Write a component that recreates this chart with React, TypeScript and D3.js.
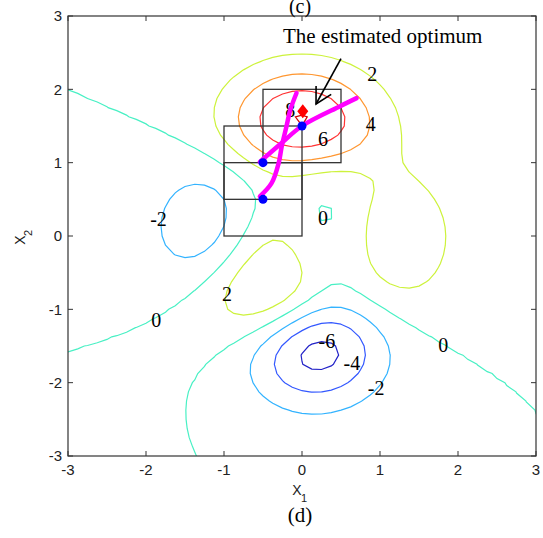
import React from "react";
import * as d3 from "d3";

// axis ticks
const xTicks = [-3, -2, -1, 0, 1, 2, 3];
const yTicks = [-3, -2, -1, 0, 1, 2, 3];

// contour levels and their colours (matlab jet-like)
const levels = [-6, -4, -2, 0, 2, 4, 6, 8];
const levelColors = ["#2323c8", "#3358ff", "#33b3ff", "#48f0c4", "#cdf23c", "#ff9630", "#ff3333", "#d00000"];

// the surface is matlab's peaks() on a 49x49 grid
const gridSize = 49;
const sq = (v: number) => v * v;
const peaks = (x: number, y: number) =>
  3 * sq(1 - x) * Math.exp(-x * x - sq(y + 1)) -
  10 * (x / 5 - x * x * x - Math.pow(y, 5)) * Math.exp(-x * x - y * y) -
  Math.exp(-sq(x + 1) - y * y) / 3;

// contour labels
const labelText = ["8", "6", "4", "2", "0", "-2", "2", "0", "0", "-6", "-4", "-2"];
const labelX = [-0.15, 0.27, 0.88, 0.9, 0.27, -1.84, -0.96, -1.87, 1.81, 0.32, 0.64, 0.95];
const labelY = [1.72, 1.32, 1.53, 2.21, 0.25, 0.23, -0.79, -1.15, -1.49, -1.43, -1.73, -2.07];

// search boxes
const boxX0 = [-0.5, -1, -1];
const boxX1 = [0.5, 0, 0];
const boxY0 = [1, 0.5, 0];
const boxY1 = [2, 1.5, 1];

// box centres (blue points)
const centreX = [0, -0.5, -0.5];
const centreY = [1.5, 1, 0.5];

// magenta search paths
const pathAX = [-0.54, -0.28, 0, 0.49, 0.7];
const pathAY = [1.01, 1.25, 1.5, 1.77, 1.88];
const pathBX = [-0.54, -0.39, -0.3, -0.26, -0.2, -0.15, -0.07];
const pathBY = [0.54, 0.72, 0.99, 1.22, 1.49, 1.72, 1.95];

// estimated optimum and arrow
const optimumX = 0.01;
const optimumY = 1.7;
const arrowFrom = [0.5, 2.42];
const arrowTo = [0.18, 1.8];

const W = 543;
const H = 538;
const left = 68, right = 536, top = 16, bottom = 456;

const App = () => {
  const x = d3.scaleLinear().domain([-3, 3]).range([left, right]);
  const y = d3.scaleLinear().domain([-3, 3]).range([bottom, top]);

  // grid values
  const step = 6 / (gridSize - 1);
  const values: number[] = [];
  for (let j = 0; j < gridSize; j++) {
    for (let i = 0; i < gridSize; i++) {
      values.push(peaks(-3 + i * step, -3 + j * step));
    }
  }
  const contours = d3.contours().size([gridSize, gridSize]).thresholds(levels)(values);

  const proj = d3.geoTransform({
    point: function (gx: number, gy: number) {
      this.stream.point(x(-3 + (gx - 0.5) * step), y(-3 + (gy - 0.5) * step));
    },
  });
  const geoPath = d3.geoPath(proj);

  const pathA = d3.line<number>().curve(d3.curveCatmullRom)
    .x((d, i) => x(pathAX[i])).y((d, i) => y(pathAY[i]))(pathAX);
  const pathB = d3.line<number>().curve(d3.curveCatmullRom)
    .x((d, i) => x(pathBX[i])).y((d, i) => y(pathBY[i]))(pathBX);

  // arrow head
  const tx = x(arrowTo[0]), ty = y(arrowTo[1]);
  const fx = x(arrowFrom[0]), fy = y(arrowFrom[1]);
  const ang = Math.atan2(fy - ty, fx - tx);
  const headLen = 18;
  const h1 = [tx + headLen * Math.cos(ang + 0.5), ty + headLen * Math.sin(ang + 0.5)];
  const h2 = [tx + headLen * Math.cos(ang - 0.5), ty + headLen * Math.sin(ang - 0.5)];

  const ox = x(optimumX), oy = y(optimumY);

  return (
    <svg width={W} height={H} style={{ position: "absolute", left: 0, top: 0, background: "#fff" }}>
      <defs>
        <clipPath id="plotClip">
          <rect x={left} y={top} width={right - left} height={bottom - top} />
        </clipPath>
      </defs>

      <g clipPath="url(#plotClip)">
        {contours.map((c, i) => (
          <path key={i} d={geoPath(c as any) || ""} fill="none" stroke={levelColors[i]} strokeWidth={1.2} />
        ))}
      </g>

      {/* boxes */}
      {boxX0.map((d, i) => (
        <rect
          key={i}
          x={x(boxX0[i])}
          y={y(boxY1[i])}
          width={x(boxX1[i]) - x(boxX0[i])}
          height={y(boxY0[i]) - y(boxY1[i])}
          fill="none"
          stroke="#333"
          strokeWidth={1.3}
        />
      ))}

      {/* contour labels */}
      {labelText.map((t, i) => (
        <text
          key={i}
          x={x(labelX[i])}
          y={y(labelY[i])}
          dy="0.35em"
          textAnchor="middle"
          fontFamily="'Liberation Serif', serif"
          fontSize={20}
          fill="#000"
        >
          {t}
        </text>
      ))}

      {/* search paths */}
      <path d={pathB || ""} fill="none" stroke="#ff00ff" strokeWidth={4.5} strokeLinecap="round" />
      <path d={pathA || ""} fill="none" stroke="#ff00ff" strokeWidth={4.5} strokeLinecap="round" />

      {centreX.map((d, i) => (
        <circle key={i} cx={x(centreX[i])} cy={y(centreY[i])} r={4.5} fill="#0000ff" />
      ))}

      {/* optimum */}
      <path d={`M${ox},${oy - 7}L${ox + 5.5},${oy}L${ox},${oy + 7}L${ox - 5.5},${oy}Z`} fill="#ff0000" />

      {/* arrow */}
      <line x1={fx} y1={fy} x2={tx} y2={ty} stroke="#000" strokeWidth={1.6} />
      <polyline points={`${h1[0]},${h1[1]} ${tx},${ty} ${h2[0]},${h2[1]}`} fill="none" stroke="#000" strokeWidth={1.6} />
      <text x={283} y={43} fontFamily="'Liberation Serif', serif" fontSize={21} fill="#000">
        The estimated optimum
      </text>

      {/* axes box and ticks */}
      <rect x={left} y={top} width={right - left} height={bottom - top} fill="none" stroke="#333" strokeWidth={1.2} />
      {xTicks.map((t) => (
        <g key={"x" + t}>
          <line x1={x(t)} x2={x(t)} y1={bottom} y2={bottom - 5} stroke="#333" />
          <line x1={x(t)} x2={x(t)} y1={top} y2={top + 5} stroke="#333" />
          <text x={x(t)} y={bottom + 19} textAnchor="middle" fontFamily="'Liberation Sans', sans-serif" fontSize={15} fill="#222">
            {t}
          </text>
        </g>
      ))}
      {yTicks.map((t) => (
        <g key={"y" + t}>
          <line x1={left} x2={left + 5} y1={y(t)} y2={y(t)} stroke="#333" />
          <line x1={right} x2={right - 5} y1={y(t)} y2={y(t)} stroke="#333" />
          <text x={left - 6} y={y(t)} dy="0.36em" textAnchor="end" fontFamily="'Liberation Sans', sans-serif" fontSize={15} fill="#222">
            {t}
          </text>
        </g>
      ))}

      {/* axis labels */}
      <text x={297} y={495} textAnchor="middle" fontFamily="'Liberation Sans', sans-serif" fontSize={14} fill="#222">
        X
      </text>
      <text x={304} y={502} textAnchor="middle" fontFamily="'Liberation Sans', sans-serif" fontSize={11} fill="#222">
        1
      </text>
      <g transform="translate(25,237) rotate(-90)">
        <text x={-3} y={0} textAnchor="middle" fontFamily="'Liberation Sans', sans-serif" fontSize={14} fill="#222">
          X
        </text>
        <text x={4} y={7} textAnchor="middle" fontFamily="'Liberation Sans', sans-serif" fontSize={11} fill="#222">
          2
        </text>
      </g>

      {/* panel captions */}
      <text x={300} y={13} textAnchor="middle" fontFamily="'Liberation Serif', serif" fontSize={20} fill="#000">
        (c)
      </text>
      <text x={300} y={522} textAnchor="middle" fontFamily="'Liberation Serif', serif" fontSize={21} fill="#000">
        (d)
      </text>
    </svg>
  );
};

export default App;
